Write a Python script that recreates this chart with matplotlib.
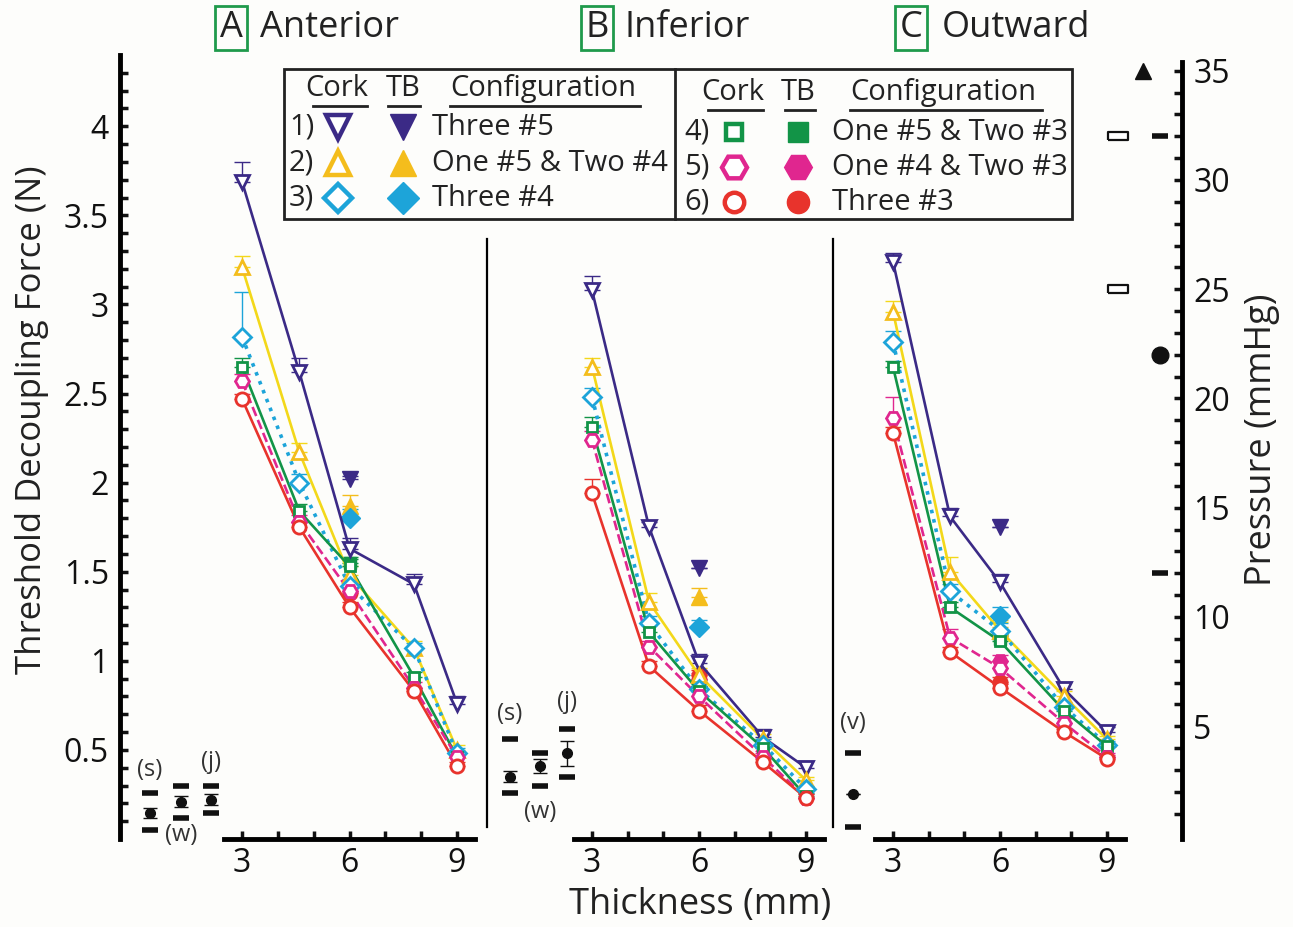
import numpy as np
import matplotlib.pyplot as plt
from matplotlib.patches import Rectangle

plt.rcParams['font.family'] = ['Open Sans', 'DejaVu Sans']

# ---------------- data ----------------
thickness = [3, 4.6, 6, 7.8, 9]
configs = ['Three #5', 'One #5 & Two #4', 'Three #4',
           'One #5 & Two #3', 'One #4 & Two #3', 'Three #3']
letters = ['A', 'B', 'C']
panels = ['Anterior', 'Inferior', 'Outward']

# cork means (N) per configuration 1..6
ant_cork = [[3.69, 2.62, 1.63, 1.43, 0.76],
            [3.21, 2.17, 1.48, 1.07, 0.50],
            [2.82, 2.00, 1.42, 1.07, 0.48],
            [2.65, 1.84, 1.53, 0.91, 0.46],
            [2.57, 1.78, 1.39, 0.85, 0.46],
            [2.47, 1.75, 1.30, 0.83, 0.41]]
ant_err = [[0.11, 0.08, 0.06, 0.06, 0.04],
           [0.06, 0.05, 0.05, 0.04, 0.03],
           [0.25, 0.05, 0.04, 0.03, 0.03],
           [0.05, 0.04, 0.04, 0.03, 0.02],
           [0.04, 0.04, 0.03, 0.03, 0.02],
           [0.03, 0.03, 0.03, 0.02, 0.02]]
inf_cork = [[3.08, 1.75, 0.99, 0.57, 0.40],
            [2.65, 1.33, 0.92, 0.56, 0.33],
            [2.48, 1.21, 0.84, 0.53, 0.28],
            [2.31, 1.16, 0.83, 0.51, 0.24],
            [2.24, 1.08, 0.80, 0.46, 0.23],
            [1.94, 0.97, 0.72, 0.43, 0.23]]
inf_err = [[0.08, 0.03, 0.05, 0.05, 0.04],
           [0.05, 0.05, 0.04, 0.03, 0.02],
           [0.05, 0.04, 0.03, 0.03, 0.02],
           [0.06, 0.04, 0.03, 0.02, 0.02],
           [0.05, 0.03, 0.03, 0.02, 0.02],
           [0.08, 0.03, 0.03, 0.02, 0.02]]
out_cork = [[3.24, 1.81, 1.44, 0.84, 0.60],
            [2.96, 1.50, 1.17, 0.80, 0.56],
            [2.79, 1.39, 1.17, 0.74, 0.53],
            [2.65, 1.30, 1.11, 0.72, 0.52],
            [2.36, 1.13, 0.96, 0.65, 0.46],
            [2.28, 1.05, 0.85, 0.60, 0.45]]
out_err = [[0.05, 0.05, 0.05, 0.04, 0.03],
           [0.06, 0.08, 0.05, 0.03, 0.02],
           [0.06, 0.04, 0.04, 0.03, 0.02],
           [0.03, 0.03, 0.03, 0.02, 0.02],
           [0.12, 0.05, 0.04, 0.03, 0.02],
           [0.03, 0.03, 0.02, 0.02, 0.02]]

# TB (thermoplastic) means at 6 mm, configuration 1..6
ant_tb = [2.02, 1.87, 1.80, 1.55, 1.42, 1.38]
ant_tb_err = [0.02, 0.06, 0.05, 0.03, 0.03, 0.03]
inf_tb = [1.52, 1.36, 1.19, 0.86, 0.90, 0.92]
inf_tb_err = [0.0, 0.05, 0.04, 0.03, 0.03, 0.03]
out_tb = [1.75, 1.19, 1.25, 1.12, 1.00, 0.88]
out_tb_err = [0.0, 0.04, 0.05, 0.03, 0.03, 0.03]

# reference (black) points per panel
ant_ref_lbl = ['(s)', '(w)', '(j)']
ant_ref = [0.146, 0.21, 0.22]
ant_ref_err = [0.03, 0.03, 0.03]
ant_ref_hi = [0.26, 0.30, 0.30]
ant_ref_lo = [0.05, 0.12, 0.146]
inf_ref_lbl = ['(s)', '(w)', '(j)']
inf_ref = [0.35, 0.41, 0.48]
inf_ref_err = [0.03, 0.04, 0.07]
inf_ref_hi = [0.56, 0.48, 0.62]
inf_ref_lo = [0.26, 0.30, 0.35]
out_ref_lbl = ['(v)']
out_ref = [0.25]
out_ref_err = [0.0]
out_ref_hi = [0.48]
out_ref_lo = [0.07]

# pressure references (mmHg), right axis
press_tri = [35]
press_rect = [32, 25]
press_dash = [32, 12]
press_dot = [22]

colors = ['#3b2a86', '#f3d81a', '#1da4d9', '#129447', '#e0268f', '#e8332c']
mcolors = ['#3b2a86', '#f4bd1c', '#1da4d9', '#129447', '#e0268f', '#e8332c']
lstyles = ['-', '-', ':', '-', '--', '-']
markers = ['v', '^', 'D', 's', 'H', 'o']
msizes = [10, 10, 9, 7, 10, 9.5]

W, H = 1293, 927
fig = plt.figure(figsize=(W / 100, H / 100), dpi=100, facecolor='#fdfdfb')


def frac(x0, x1, y0=55, y1=839):
    return [x0 / W, 1 - y1 / H, (x1 - x0) / W, (y1 - y0) / H]


# pixel layout: axes left/right, positions of 3 mm and 9 mm
layout = [(120, 487, 242, 457), (487, 833, 592, 806), (833, 1182, 893, 1107)]
ref_pos = [[0.43, 1.30, 2.13], [0.70, 1.54, 2.30], [1.88]]
lbl_pos = [[(0.43, 0.39), (1.30, 0.02), (2.13, 0.43)],
           [(0.70, 0.70), (1.54, 0.15), (2.30, 0.77)],
           [(1.88, 0.65)]]

cork_all = [ant_cork, inf_cork, out_cork]
err_all = [ant_err, inf_err, out_err]
tb_all = [ant_tb, inf_tb, out_tb]
tbe_all = [ant_tb_err, inf_tb_err, out_tb_err]
ref_all = [(ant_ref_lbl, ant_ref, ant_ref_err, ant_ref_hi, ant_ref_lo),
           (inf_ref_lbl, inf_ref, inf_ref_err, inf_ref_hi, inf_ref_lo),
           (out_ref_lbl, out_ref, out_ref_err, out_ref_hi, out_ref_lo)]

axes = []
for p, (x0, x1, x3, x9) in enumerate(layout):
    ax = fig.add_axes(frac(x0, x1))
    ax.set_facecolor('none')
    k = (x9 - x3) / 6.0
    ax.set_xlim(3 - (x3 - x0) / k, 9 + (x1 - x9) / k)
    ax.set_ylim(0, 4.40)
    ax.spines['top'].set_visible(False)
    ax.spines['right'].set_visible(False)
    ax.spines['bottom'].set_bounds(2.5, 9.5)
    ax.spines['bottom'].set_linewidth(3.5)
    ax.set_xticks([3, 6, 9])
    ax.set_xticks([4, 5, 7, 8], minor=True)
    ax.tick_params(axis='x', which='both', direction='in', length=6,
                   width=2.5, labelsize=23, pad=6, colors='#111')
    if p == 0:
        ax.spines['left'].set_linewidth(3.5)
        ax.set_yticks([0.5, 1, 1.5, 2, 2.5, 3, 3.5, 4])
        ax.set_yticklabels(['0.5', '1', '1.5', '2', '2.5', '3', '3.5', '4'])
        ax.set_yticks(np.arange(0.1, 4.35, 0.1), minor=True)
        ax.tick_params(axis='y', which='both', direction='in', length=6,
                       width=2.5, labelsize=23, pad=8, colors='#111', right=False)
    else:
        ax.spines['left'].set_bounds(0.07, 3.37)
        ax.spines['left'].set_linewidth(1.6)
        ax.set_yticks([])
        ax.set_yticks([], minor=True)

    cork, err = cork_all[p], err_all[p]
    for i in range(6):
        ax.errorbar(thickness, cork[i], yerr=[np.zeros(5), err[i]], fmt='none',
                    ecolor=colors[i], elinewidth=1, capsize=6, capthick=1, zorder=2)
    for i in range(6):
        ax.errorbar([6], [tb_all[p][i]], yerr=[[0], [tbe_all[p][i]]],
                    fmt=markers[i], color=mcolors[i], ms=msizes[i] + 1,
                    ecolor=mcolors[i], elinewidth=1, capsize=6, capthick=1, zorder=3)
    for i in range(6):
        ax.plot(thickness, cork[i], color=colors[i], ls=lstyles[i],
                lw=2.6 if lstyles[i] == ':' else 1.9, zorder=4)
        ax.plot(thickness, cork[i], ls='none', marker=markers[i], ms=msizes[i],
                mfc='white', mec=mcolors[i], mew=2, zorder=5)

    lbl, val, verr, hi, lo = ref_all[p]
    xs = ref_pos[p]
    ax.errorbar(xs, val, yerr=verr, fmt='o', color='#111', ms=7,
                elinewidth=1, capsize=5, capthick=1)
    ax.plot(xs, hi, ls='none', marker='_', ms=12, mew=4, color='#111')
    ax.plot(xs, lo, ls='none', marker='_', ms=12, mew=4, color='#111')
    for t, (lx, ly) in zip(lbl, lbl_pos[p]):
        ax.text(lx, ly, t, ha='center', va='center', fontsize=17, color='#333')
    axes.append(ax)

# right pressure axis
rax = axes[2].twinx()
rax.set_ylim(-0.16, 35.72)
for s in ['left', 'top', 'bottom']:
    rax.spines[s].set_visible(False)
rax.spines['right'].set_bounds(-0.16, 35.4)
rax.spines['right'].set_linewidth(3.5)
rax.set_yticks([5, 10, 15, 20, 25, 30, 35])
rax.set_yticks(np.arange(1, 36, 1), minor=True)
rax.tick_params(axis='y', which='both', direction='in', length=6, width=2.5,
                labelsize=23, pad=8, colors='#111', left=False)
rax.plot([10.01] * len(press_tri), press_tri, ls='none', marker='^', ms=11, color='#111')
rect = [(-1, -0.4), (1, -0.4), (1, 0.4), (-1, 0.4), (-1, -0.4)]
rax.plot([9.31] * len(press_rect), press_rect, ls='none', marker=rect, ms=14,
         mfc='white', mec='#111', mew=1.6)
rax.plot([10.49] * len(press_dash), press_dash, ls='none', marker='_', ms=11,
         mew=4, color='#111')
rax.plot([10.49] * len(press_dot), press_dot, ls='none', marker='o', ms=12, color='#111')

# axis labels and titles
fig.text(32 / W, 1 - 420 / H, 'Threshold Decoupling Force (N)', rotation=90,
         ha='center', va='center', fontsize=25, color='#222')
fig.text(1262 / W, 1 - 440 / H, 'Pressure (mmHg)', rotation=90,
         ha='center', va='center', fontsize=26, color='#222')
fig.text(700 / W, 1 - 905 / H, 'Thickness (mm)', ha='center', va='center',
         fontsize=26, color='#222')
for L, name, cx, tx in zip(letters, panels, [231, 597, 911], [260, 625, 942]):
    fig.text(cx / W, 1 - 28 / H, L, ha='center', va='center', fontsize=26, color='#222',
             bbox=dict(boxstyle='square,pad=0.12', fc='none', ec='#1f9a4b', lw=2))
    fig.text(tx / W, 1 - 28 / H, name, ha='left', va='center', fontsize=26, color='#222')

# legend (drawn in pixel coordinates)
lg = fig.add_axes([0, 0, 1, 1])
lg.set_xlim(0, W)
lg.set_ylim(H, 0)
lg.axis('off')
lg.add_patch(Rectangle((284, 69), 788, 150, fill=False, lw=2, ec='#222'))
lg.plot([675, 675], [69, 219], color='#222', lw=2)
lfs = 21
for (ck, tb, cf, hy, uls, nums, rows, ids) in [
        (337, 403, 450, 88, [(313, 367), (388, 420), (450, 640)],
         289, [127, 163, 198], [0, 1, 2]),
        (733, 798, 850, 92, [(708, 763), (785, 815), (850, 1042)],
         684, [132, 167, 202], [3, 4, 5])]:
    lg.text(ck, hy, 'Cork', ha='center', va='center', fontsize=lfs, color='#222')
    lg.text(tb, hy, 'TB', ha='center', va='center', fontsize=lfs, color='#222')
    lg.text(cf, hy, 'Configuration', ha='left', va='center', fontsize=lfs, color='#222')
    for a, b in uls:
        lg.plot([a, b], [hy + 18, hy + 18], color='#222', lw=2)
    for ry, i in zip(rows, ids):
        lg.text(nums, ry, f'{i + 1})', ha='left', va='center', fontsize=lfs, color='#222')
        lsz = {'v': 17, '^': 17, 'D': 14, 's': 12, 'H': 18, 'o': 14}[markers[i]]
        lg.plot([ck + 1], [ry], marker=markers[i], ms=lsz, mfc='white',
                mec=mcolors[i], mew=3.2, ls='none')
        lg.plot([tb], [ry], marker=markers[i], ms=lsz + 2, color=mcolors[i], ls='none')
        lg.text(cf - 18, ry, configs[i], ha='left', va='center',
                fontsize=lfs, color='#222')

fig.savefig('out.png', dpi=100, facecolor=fig.get_facecolor())
